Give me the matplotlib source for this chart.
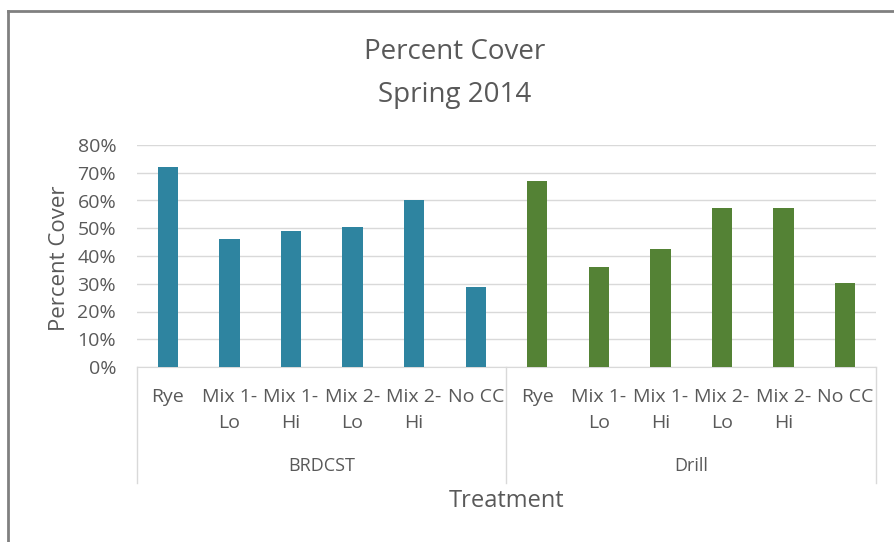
import matplotlib.pyplot as plt
import numpy as np
from matplotlib.ticker import PercentFormatter

plt.rcParams["font.family"] = ["Open Sans", "DejaVu Sans"]

methods = ["BRDCST", "Drill"]
treatments = ["Rye", "Mix 1-\nLo", "Mix 1-\nHi", "Mix 2-\nLo", "Mix 2-\nHi", "No CC"]
brdcst_cover = [0.72, 0.463, 0.49, 0.503, 0.602, 0.289]
drill_cover = [0.67, 0.36, 0.427, 0.572, 0.572, 0.301]
colors = ["#2E84A0", "#548235"]

text_color = "#595959"

fig = plt.figure(figsize=(8.95, 5.42), dpi=100)
ax = fig.add_axes([137 / 895, 1 - 367 / 542, (876 - 137) / 895, (367 - 145) / 542])

n = len(treatments)
for g, (vals, c) in enumerate(zip([brdcst_cover, drill_cover], colors)):
    x = np.arange(n) + g * n
    ax.bar(x, vals, width=0.33, color=c, zorder=3)

ax.set_xlim(-0.5, 2 * n - 0.5)
ax.set_ylim(0, 0.8)
ax.set_yticks(np.arange(0, 0.81, 0.1))
ax.yaxis.set_major_formatter(PercentFormatter(1.0, decimals=0))
ax.grid(axis="y", color="#D9D9D9", linewidth=1, zorder=0)

ax.set_xticks(np.arange(2 * n))
ax.set_xticklabels(treatments * 2, linespacing=1.6, va="top")
ax.tick_params(axis="x", length=0, pad=15, labelsize=14, colors=text_color)
ax.tick_params(axis="y", length=0, pad=15, labelsize=14, colors=text_color)

for s in ["top", "right", "left"]:
    ax.spines[s].set_visible(False)
ax.spines["bottom"].set_color("#D9D9D9")

# group separators and labels under the axis
h = 367 - 145
for xs in [-0.5, n - 0.5, 2 * n - 0.5]:
    ax.plot([xs, xs], [0, -(483 - 367) / h], color="#D9D9D9", lw=1,
            transform=ax.get_xaxis_transform(), clip_on=False)
for g, m in enumerate(methods):
    ax.text(g * n + (n - 1) / 2, -(466 - 367) / h, m, ha="center", va="center",
            fontsize=13, color=text_color, transform=ax.get_xaxis_transform())

ax.text(0.5, -(501 - 367) / h, "Treatment", ha="center", va="center",
        fontsize=17, color=text_color, transform=ax.transAxes)
fig.text(60 / 895, 1 - 258 / 542, "Percent Cover", rotation=90, ha="center",
         va="center", fontsize=16, color=text_color)

fig.text(455 / 895, 1 - 52 / 542, "Percent Cover", ha="center", va="center",
         fontsize=20, color=text_color)
fig.text(455 / 895, 1 - 95 / 542, "Spring 2014", ha="center", va="center",
         fontsize=20, color=text_color)

# chart frame (top and left edges visible)
fig.add_artist(plt.Line2D([8 / 895, 8 / 895], [0, 1 - 11 / 542], color="#808080", lw=2))
fig.add_artist(plt.Line2D([8 / 895, 1], [1 - 11 / 542, 1 - 11 / 542], color="#808080", lw=2))

fig.savefig("out.png", dpi=100)
